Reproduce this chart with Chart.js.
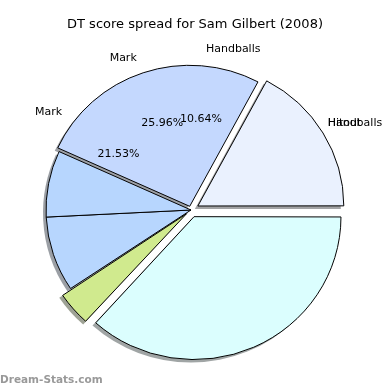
<!DOCTYPE html>
<html>
<head>
<meta charset="utf-8">
<script src="https://cdn.jsdelivr.net/npm/chart.js@4/dist/chart.umd.min.js"></script>
<style>
html, body { margin: 0; padding: 0; background: #fff; }
#caixa { width: 390px; height: 390px; position: relative; }
</style>
</head>
<body>
<div id="caixa"><canvas id="grafico"></canvas></div>
<script>
// fatias em ordem horaria a partir do leste (%)
const fatias = ['Kick', 'Tackle', 'Mark', 'Mark', 'Mark', 'Handballs'];
const valores = [36.7, 3.9, 8.6, 7.6, 26.0, 17.2];
// rotulos que aparecem no grafico original
const rotulos = ['Hitout', 'Handballs', 'Handballs', 'Mark', 'Mark'];
const porcentagens = ['10.64%', '25.96%', '21.53%'];

const cores = ['#dbfefe', '#d0ea8e', '#b7d6fe', '#b7d6fe', '#c4d8fe', '#eaf1fe'];
const deslocamentos = [30, 24, 0, 0, 16, 32];
const angRotulos = [32.3, 32.3, 84.7, 109.6, 142.8];
const angPorcent = [83.8, 108.4, 142.6];
const escalaY = 141 / 145;

function centro(chart) {
    const arco = chart.getDatasetMeta(0).data[0];
    return { x: arco.x, y: arco.y, r: arco.outerRadius };
}

const pluginPizza = {
    id: 'pizza',
    beforeDatasetsDraw(chart) {
        const ctx = chart.ctx;
        const c = centro(chart);
        ctx.save();
        ctx.translate(c.x, c.y);
        ctx.scale(1, escalaY);
        ctx.translate(-c.x, -c.y);
        // sombras, como o matplotlib faz
        ctx.save();
        ctx.translate(-3, 3);
        chart.getDatasetMeta(0).data.forEach((arco, i) => {
            const off = deslocamentos[i] / 4;
            const meio = (arco.startAngle + arco.endAngle) / 2;
            const fix = 1 - Math.sin(Math.min(Math.PI, arco.circumference));
            const x = arco.x + Math.cos(meio) * off;
            const y = arco.y + Math.sin(meio) * off;
            const hex = cores[i];
            const r = parseInt(hex.slice(1, 3), 16) * 0.3;
            const g = parseInt(hex.slice(3, 5), 16) * 0.3;
            const b = parseInt(hex.slice(5, 7), 16) * 0.3;
            ctx.fillStyle = `rgba(${r},${g},${b},0.5)`;
            ctx.beginPath();
            ctx.moveTo(x, y);
            ctx.arc(x, y, arco.outerRadius + off * fix, arco.startAngle, arco.endAngle);
            ctx.closePath();
            ctx.fill();
        });
        ctx.restore();
    },
    afterDatasetsDraw(chart) {
        chart.ctx.restore();
    },
    afterDraw(chart) {
        const ctx = chart.ctx;
        const c = centro(chart);
        ctx.save();
        ctx.fillStyle = '#000';
        ctx.textBaseline = 'middle';
        ctx.font = '13px "DejaVu Sans"';
        ctx.textAlign = 'center';
        ctx.fillText('DT score spread for Sam Gilbert (2008)', 195, 25);

        ctx.font = '11px "DejaVu Sans"';
        rotulos.forEach((t, i) => {
            const a = angRotulos[i] * Math.PI / 180;
            const x = c.x + Math.cos(a) * c.r * 1.115;
            const y = c.y - Math.sin(a) * c.r * 1.115;
            ctx.textAlign = Math.cos(a) > 0 ? 'left' : 'right';
            ctx.fillText(t, x, y);
        });
        ctx.textAlign = 'center';
        porcentagens.forEach((t, i) => {
            const a = angPorcent[i] * Math.PI / 180;
            ctx.fillText(t, c.x + Math.cos(a) * c.r * 0.63, c.y - Math.sin(a) * c.r * 0.63);
        });

        ctx.fillStyle = '#999';
        ctx.font = 'bold 10.5px "DejaVu Sans"';
        ctx.textAlign = 'left';
        ctx.fillText('Dream-Stats.com', 0, 380);
        ctx.restore();
    }
};

new Chart(document.getElementById('grafico'), {
    type: 'pie',
    data: {
        labels: fatias,
        datasets: [{
            data: valores,
            backgroundColor: cores,
            borderColor: '#000',
            borderWidth: 1,
            offset: deslocamentos
        }]
    },
    options: {
        responsive: true,
        maintainAspectRatio: false,
        animation: false,
        rotation: 90,
        radius: 145,
        layout: { padding: { left: 0, right: 8, top: 40, bottom: 10 } },
        plugins: {
            legend: { display: false },
            title: { display: false },
            tooltip: { enabled: false }
        }
    },
    plugins: [pluginPizza]
});
</script>
</body>
</html>
